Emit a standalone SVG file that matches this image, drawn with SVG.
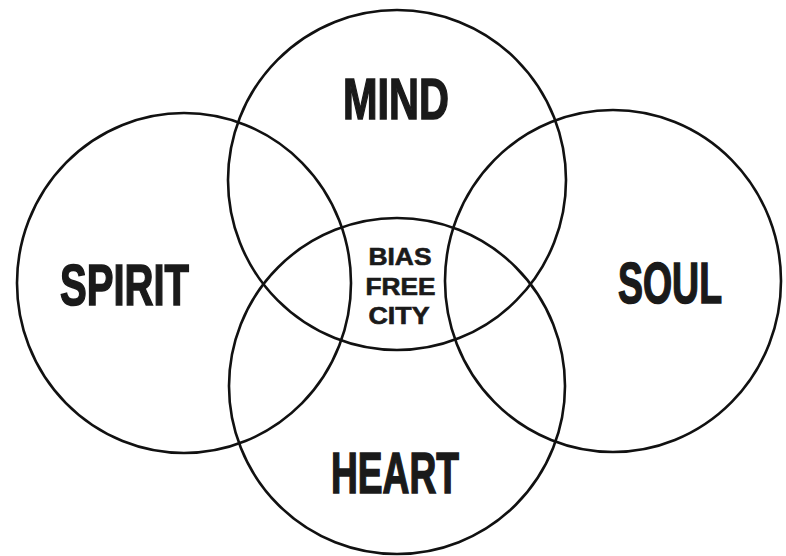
<svg xmlns="http://www.w3.org/2000/svg" width="786" height="556" viewBox="0 0 786 556">
<style>
.c{fill:none;stroke:#111;stroke-width:2.6}
.big{font-family:"Liberation Sans",Arial,sans-serif;font-weight:bold;font-size:58px;fill:#1a1a1a;stroke:#1a1a1a;stroke-width:1.6;text-anchor:middle}
.sm{font-family:"Liberation Sans",Arial,sans-serif;font-weight:bold;font-size:23px;fill:#1a1a1a;stroke:#1a1a1a;stroke-width:0.6;text-anchor:middle}
</style>
<rect width="786" height="556" fill="#fff"/>
<g id="connectors"></g>
<g id="mind"><ellipse class="c" cx="397" cy="180" rx="169" ry="170"/><text class="big" x="396" y="119" textLength="106" lengthAdjust="spacingAndGlyphs">MIND</text></g>
<g id="spirit"><ellipse class="c" cx="184" cy="283" rx="167" ry="170"/><text class="big" x="124.5" y="305" textLength="129" lengthAdjust="spacingAndGlyphs">SPIRIT</text></g>
<g id="soul"><ellipse class="c" cx="613" cy="281" rx="168" ry="171"/><text class="big" x="670" y="303" textLength="104" lengthAdjust="spacingAndGlyphs">SOUL</text></g>
<g id="heart"><ellipse class="c" cx="397" cy="386" rx="168" ry="168"/><text class="big" x="395" y="493" textLength="128" lengthAdjust="spacingAndGlyphs">HEART</text></g>
<g id="center">
<text class="sm" x="400" y="265" textLength="63" lengthAdjust="spacingAndGlyphs">BIAS</text>
<text class="sm" x="400.5" y="295" textLength="70" lengthAdjust="spacingAndGlyphs">FREE</text>
<text class="sm" x="399" y="324" textLength="61" lengthAdjust="spacingAndGlyphs">CITY</text>
</g>
</svg>
